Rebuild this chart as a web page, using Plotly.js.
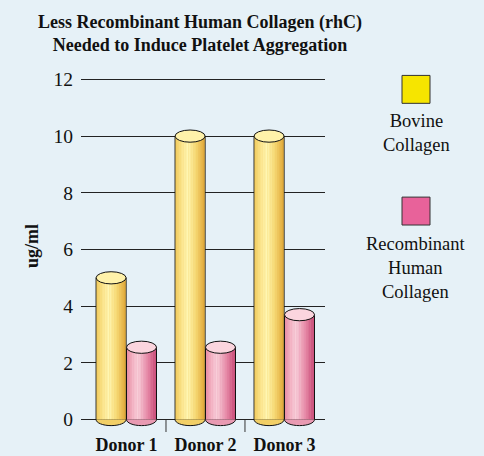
<!DOCTYPE html>
<html>
<head>
<meta charset="utf-8">
<script src="https://cdn.plot.ly/plotly-3.0.1.min.js"></script>
<style>html,body{margin:0;padding:0;background:#e6f1f7;}#chart{width:484px;height:456px;}</style>
</head>
<body>
<div id="chart"></div>
<script>
// ---- data ----
const categories = ['Donor 1', 'Donor 2', 'Donor 3'];
const bovineValues = [5, 10, 10];
const rhcValues = [2.55, 2.55, 3.7];
const yTickValues = [0, 2, 4, 6, 8, 10, 12];
const seriesNames = ['Bovine Collagen', 'Recombinant Human Collagen'];
const legendLabels = ['Bovine<br>Collagen', 'Recombinant<br>Human<br>Collagen'];
const titleText = 'Less Recombinant Human Collagen (rhC)<br>Needed to Induce Platelet Aggregation';
const yTitleText = 'ug/ml';

// ---- style ----
const BG = '#e6f1f7';
const FONT = 'Liberation Serif, Times New Roman, serif';
const styles = [
  { offset: -0.385, width: 0.38,
    stops: [[0, '#f2cb5c'], [0.22, '#fbe690'], [0.42, '#fff6b2'], [0.7, '#f6d874'], [1, '#dfa536']],
    top: '#fff2aa', bottom: '#f2cf66', legend: '#f6e500' },
  { offset: 0.0, width: 0.38,
    stops: [[0, '#e88ba3'], [0.2, '#f4b6c6'], [0.38, '#f8d0da'], [0.7, '#e78ba8'], [1, '#c64673']],
    top: '#fbd5de', bottom: '#e99ab2', legend: '#e8629a' }
];
const seriesValues = [bovineValues, rhcValues];
const RY = 0.215;           // ellipse half-height in value units
const K = 18;               // gradient strips per bar
const INSET = 0.008;

function hex2rgb(h) { return [1, 3, 5].map(i => parseInt(h.substr(i, 2), 16)); }
function colorAt(stops, t) {
  for (let i = 1; i < stops.length; i++) {
    if (t <= stops[i][0]) {
      const [t0, c0] = stops[i - 1], [t1, c1] = stops[i];
      const f = (t - t0) / (t1 - t0);
      const a = hex2rgb(c0), b = hex2rgb(c1);
      return 'rgb(' + a.map((v, j) => Math.round(v + (b[j] - v) * f)).join(',') + ')';
    }
  }
  return stops[stops.length - 1][1];
}

const xIdx = categories.map((c, i) => i);
const traces = [];
const shapes = [];

styles.forEach((st, s) => {
  const vals = seriesValues[s];
  // outline bar (the actual bar)
  traces.push({
    type: 'bar', name: seriesNames[s], x: xIdx, y: vals,
    offset: st.offset, width: st.width,
    marker: { color: st.bottom, line: { color: '#111', width: 1 } },
    hoverinfo: 'skip', showlegend: false
  });
  // gradient strips
  const inner = st.width - 2 * INSET;
  const sw = inner / K;
  for (let k = 0; k < K; k++) {
    traces.push({
      type: 'bar', x: xIdx, y: vals,
      offset: st.offset + INSET + k * sw - 0.0005, width: sw + 0.001,
      marker: { color: colorAt(st.stops, (k + 0.5) / K), line: { width: 0 } },
      hoverinfo: 'skip', showlegend: false
    });
  }
  // cylinder caps
  vals.forEach((v, i) => {
    const x0 = i + st.offset, x1 = x0 + st.width, cx = (x0 + x1) / 2, rx = st.width / 2;
    const kk = 0.5523;
    shapes.push({
      type: 'path', xref: 'x', yref: 'y', layer: 'above',
      path: `M ${x0},0 C ${x0},${-kk * RY} ${cx - kk * rx},${-RY} ${cx},${-RY} C ${cx + kk * rx},${-RY} ${x1},${-kk * RY} ${x1},0`,
      fillcolor: st.bottom, line: { color: '#111', width: 1 }
    });
    shapes.push({
      type: 'circle', xref: 'x', yref: 'y', layer: 'above',
      x0: x0, x1: x1, y0: v - RY, y1: v + RY,
      fillcolor: st.top, line: { color: '#111', width: 1 }
    });
  });
});

// geometry helpers for legend placement (plot area: x 81..325, y 77.6..432.5 px)
const PL = 81, PR = 325, PT = 77.6, PB = 432.5;
const px = x => (x - PL) / (PR - PL);
const py = y => (PB - y) / (PB - PT);

// category divider ticks at the boundaries between donors
categories.slice(1).forEach((c, i) => {
  shapes.push({
    type: 'line', xref: 'x', yref: 'paper', layer: 'above',
    x0: i + 0.5, x1: i + 0.5, y0: 0, y1: py(420.5),
    line: { color: '#333', width: 1 }
  });
});

const annotations = [];
styles.forEach((st, s) => {
  const top = s === 0 ? 75 : 197;
  shapes.push({
    type: 'rect', xref: 'paper', yref: 'paper', layer: 'above',
    x0: px(402), x1: px(430), y0: py(top + 28), y1: py(top),
    fillcolor: st.legend, line: { color: '#333', width: 1 }
  });
  annotations.push({
    xref: 'paper', yref: 'paper', x: px(416), y: py(top + (s === 0 ? 34 : 35)),
    xanchor: 'center', yanchor: 'top', showarrow: false, align: 'center',
    text: legendLabels[s], font: { family: FONT, size: 18.5, color: '#111' }
  });
});
annotations.push({
  xref: 'paper', yref: 'paper', x: px(32), y: py(246),
  xanchor: 'center', yanchor: 'middle', showarrow: false, textangle: -90,
  text: yTitleText, font: { family: FONT, size: 18, color: '#111', weight: 'bold' }
});

const layout = {
  width: 484, height: 456,
  paper_bgcolor: BG, plot_bgcolor: BG,
  margin: { l: PL, r: 484 - PR, t: PT, b: 456 - PB, pad: 0 },
  barmode: 'overlay',
  showlegend: false,
  title: {
    text: titleText, x: 200 / 484, xref: 'container', xanchor: 'center',
    y: 1 - 28 / 456, yref: 'container', yanchor: 'top',
    font: { family: FONT, size: 18, color: '#111', weight: 'bold' }
  },
  xaxis: {
    type: 'linear', range: [-0.576, 2.513], tickvals: xIdx, ticktext: categories,
    showgrid: false, zeroline: false, showline: false, ticks: '',
    ticklabelstandoff: 0,
    tickfont: { family: FONT, size: 18, color: '#111', weight: 'bold' },
    fixedrange: true
  },
  yaxis: {
    range: [-0.44, 12.05], tickvals: yTickValues,
    showgrid: true, gridcolor: '#222', gridwidth: 1, zeroline: false, showline: false,
    ticks: '', ticklabelstandoff: 7,
    tickfont: { family: FONT, size: 19.5, color: '#111' },
    fixedrange: true
  },
  shapes: shapes,
  annotations: annotations,
  hovermode: false
};

Plotly.newPlot('chart', traces, layout, { displayModeBar: false, staticPlot: true });
</script>
</body>
</html>
